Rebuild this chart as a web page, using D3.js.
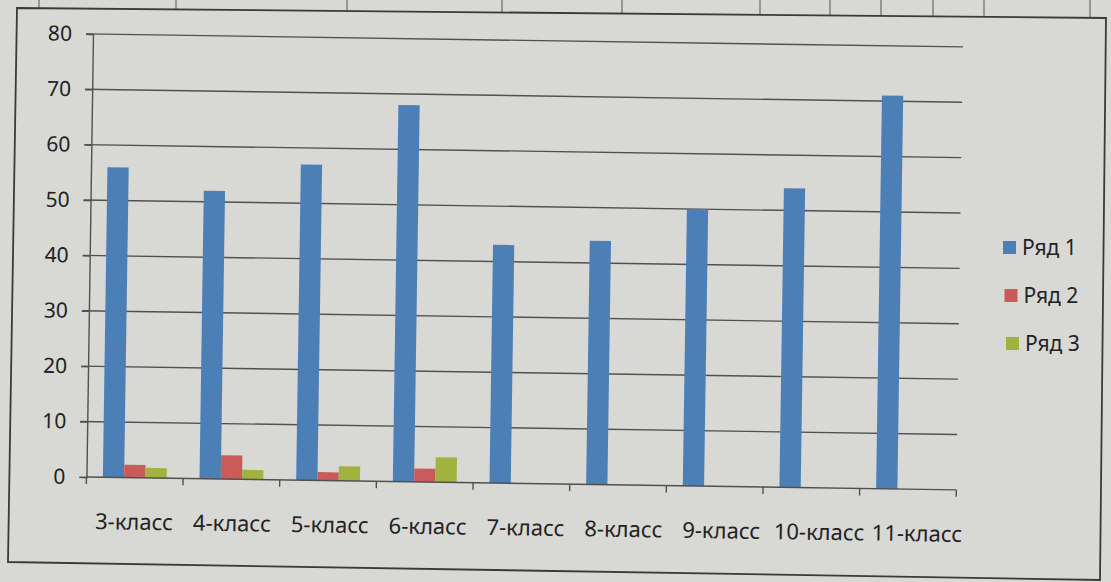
<!DOCTYPE html>
<html>
<head>
<meta charset="utf-8">
<script src="https://cdn.jsdelivr.net/npm/d3@7"></script>
<style>
  html, body { margin: 0; padding: 0; background: #d9d9d6; }
  svg { display: block; font-family: "Noto Sans", "Open Sans", sans-serif; }
</style>
</head>
<body>
<svg width="1111" height="582"></svg>
<script>
// Data
var categories = ["3-класс", "4-класс", "5-класс", "6-класс", "7-класс", "8-класс", "9-класс", "10-класс", "11-класс"];
var seriesNames = ["Ряд 1", "Ряд 2", "Ряд 3"];
var row1 = [56, 52, 57, 68, 43, 44, 50, 54, 71];
var row2 = [2.3, 4.3, 1.5, 2.4, 0, 0, 0, 0, 0];
var row3 = [1.8, 1.7, 2.6, 4.5, 0, 0, 0, 0, 0];
var yTicks = [0, 10, 20, 30, 40, 50, 60, 70, 80];

var colors = ["#4b7fb6", "#cb5b5b", "#a2b23f"];

var svg = d3.select("svg"),
    width = +svg.attr("width"),
    height = +svg.attr("height");

// paper background
svg.append("rect").attr("width", width).attr("height", height).attr("fill", "#d8d8d5");

// table lines of the page above the chart
var pageLines = [39, 176, 347, 502, 622, 760, 830, 881, 933, 984, 1090];
svg.append("g").selectAll("line")
    .data(pageLines)
    .enter().append("line")
    .attr("x1", function (d) { return d; })
    .attr("x2", function (d) { return d; })
    .attr("y1", 0)
    .attr("y2", function (d) { return 8 + d * 0.009; })
    .attr("stroke", "#555").attr("stroke-width", 1);

// chart frame (photographed at a slight angle)
svg.append("polygon")
    .attr("points", "17,8 1106,18 1100,580 8,562")
    .attr("fill", "none")
    .attr("stroke", "#3a3a3a")
    .attr("stroke-width", 1.8);

// plot area
var x0 = 93, y0 = 34, W = 870, H = 443;

var g = svg.append("g")
    .attr("transform", "translate(" + x0 + "," + y0 + ") rotate(0.85)");

var y = d3.scaleLinear().domain([0, 80]).range([H, 0]);

var xBand = d3.scaleBand()
    .domain(categories)
    .range([0, W])
    .paddingInner(0.34)
    .paddingOuter(0.17);

var xSeries = d3.scaleBand()
    .domain(seriesNames)
    .range([0, xBand.bandwidth()]);

// gridlines
g.append("g").selectAll("line")
    .data(yTicks.filter(function (d) { return d > 0; }))
    .enter().append("line")
    .attr("x1", -7).attr("x2", W)
    .attr("y1", function (d) { return y(d); })
    .attr("y2", function (d) { return y(d); })
    .attr("stroke", "#505050")
    .attr("stroke-width", 1.4);

// y axis
var yAxis = g.append("g")
    .call(d3.axisLeft(y).tickValues(yTicks).tickSize(7).tickPadding(14));
yAxis.select(".domain").attr("stroke", "#505050").attr("stroke-width", 1.4);
yAxis.selectAll(".tick line").attr("stroke", "#505050").attr("stroke-width", 1.4);
yAxis.selectAll("text")
    .attr("font-size", 21)
    .attr("fill", "#222")
    .attr("font-family", "Noto Sans, sans-serif");

// bars
var table = categories.map(function (c, i) {
  return { cat: c, values: [row1[i], row2[i], row3[i]] };
});

g.append("g").selectAll("g")
    .data(table)
    .enter().append("g")
    .attr("transform", function (d) { return "translate(" + xBand(d.cat) + ",0)"; })
    .selectAll("rect")
    .data(function (d) { return d.values.map(function (v, k) { return { name: seriesNames[k], value: v, k: k }; }); })
    .enter().append("rect")
    .attr("x", function (d) { return xSeries(d.name); })
    .attr("width", xSeries.bandwidth())
    .attr("y", function (d) { return y(d.value); })
    .attr("height", function (d) { return H - y(d.value); })
    .attr("fill", function (d) { return colors[d.k]; });

// category axis
var boundaries = d3.range(categories.length + 1).map(function (i) { return i * xBand.step(); });
g.append("line")
    .attr("x1", 0).attr("x2", W)
    .attr("y1", H).attr("y2", H)
    .attr("stroke", "#505050").attr("stroke-width", 1.4);
g.append("g").selectAll("line")
    .data(boundaries)
    .enter().append("line")
    .attr("x1", function (d) { return d; })
    .attr("x2", function (d) { return d; })
    .attr("y1", H).attr("y2", H + 7)
    .attr("stroke", "#505050").attr("stroke-width", 1.4);
g.append("g").selectAll("text")
    .data(categories)
    .enter().append("text")
    .attr("x", function (d, i) { return xBand(d) + xBand.bandwidth() / 2 + i * 1.2; })
    .attr("y", H + 52)
    .attr("text-anchor", "middle")
    .attr("font-size", 22)
    .attr("fill", "#222")
    .text(function (d) { return d; });

// legend
var legend = svg.append("g")
    .attr("transform", "translate(1003,241)");
var items = legend.selectAll("g")
    .data(seriesNames)
    .enter().append("g")
    .attr("transform", function (d, i) { return "translate(" + (i * 1.5) + "," + (i * 48) + ")"; });
items.append("rect")
    .attr("width", 13).attr("height", 13)
    .attr("fill", function (d, i) { return colors[i]; });
items.append("text")
    .attr("x", 19)
    .attr("y", 14)
    .attr("font-size", 21)
    .attr("fill", "#222")
    .text(function (d) { return d; });
</script>
</body>
</html>
